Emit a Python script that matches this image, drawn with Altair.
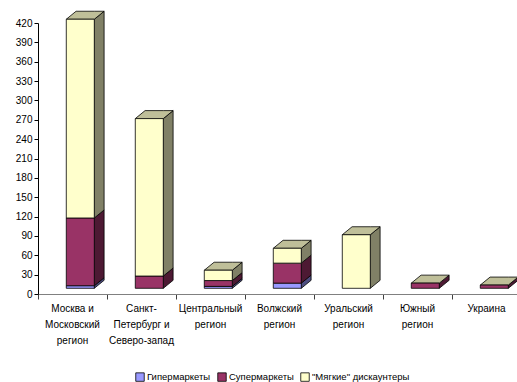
import altair as alt
import pandas as pd

# Store counts by region and format
regions = [
    "Москва и\nМосковский\nрегион",
    "Санкт-\nПетербург и\nСеверо-запад",
    "Центральный\nрегион",
    "Волжский\nрегион",
    "Уральский\nрегион",
    "Южный\nрегион",
    "Украина",
]
series = ["Гипермаркеты", "Супермаркеты", "\"Мягкие\" дискаунтеры"]
hyper = [4, 0, 3, 8, 0, 0, 0]
super_ = [105, 19, 9, 31, 0, 8, 5]
discount = [308, 244, 16, 23, 83, 0, 0]
y_ticks = list(range(0, 421, 30))

front_colors = ["#9999FF", "#993366", "#FFFFCC"]
side_colors = ["#4D4D80", "#4D1933", "#808066"]
top_color = "#BFBF99"

# pseudo-3D geometry in data units
W, H = 479, 271
N_VISIBLE = W / 69.0
BAR_L, BAR_R = 0.41, 0.816
DX = 0.142
DY = 8 * 420 / H
BASE = 5.7 * 420 / H

front_rows, side_rows, top_rows = [], [], []
for i in range(len(regions)):
    lo = BASE
    for s, vals in zip(series, [hyper, super_, discount]):
        v = vals[i]
        if v <= 0:
            continue
        hi = lo + v
        xl, xr = i + BAR_L, i + BAR_R
        front_rows.append(dict(series=s, x=xl, x2=xr, y=lo, y2=hi))
        key = f"{i}-{s}"
        side_rows.append(dict(key=key, series=s, x=xr, y=lo, y2=hi))
        side_rows.append(dict(key=key, series=s, x=xr + DX, y=lo + DY, y2=hi + DY))
        lo = hi
    xl, xr = i + BAR_L, i + BAR_R
    yt = lo
    for x, a, b in [(xl, yt, yt), (xl + DX, yt, yt + DY),
                    (xr, yt, yt + DY), (xr + DX, yt + DY, yt + DY)]:
        top_rows.append(dict(key=str(i), x=x, y=a, y2=b))

front = pd.DataFrame(front_rows)
side = pd.DataFrame(side_rows)
top = pd.DataFrame(top_rows)
labels = pd.DataFrame({"x": [i + 0.5 for i in range(len(regions))], "label": regions})

xscale = alt.Scale(domain=[0, N_VISIBLE], nice=False, zero=False)
yscale = alt.Scale(domain=[0, 420], nice=False)

x_axis = alt.Axis(values=list(range(0, 8)), labels=False, title=None, grid=False,
                  tickSize=5, domainColor="#808080", tickColor="#404040")
y_axis = alt.Axis(values=y_ticks, title=None, grid=False, tickSize=4,
                  labelFontSize=10, labelFont="Liberation Sans", labelColor="black",
                  domainColor="black", tickColor="black", labelPadding=2)

X = alt.X("x:Q", scale=xscale, axis=x_axis)
Y = alt.Y("y:Q", scale=yscale, axis=y_axis)

side_layer = alt.Chart(side).mark_area(stroke="black", strokeWidth=0.8, opacity=1).encode(
    x=X, y=Y, y2="y2:Q",
    detail="key:N",
    fill=alt.Fill("series:N", scale=alt.Scale(domain=series, range=side_colors), legend=None),
)

top_layer = alt.Chart(top).mark_area(stroke="black", strokeWidth=0.8, opacity=1,
                                     fill=top_color).encode(
    x=X, y=Y, y2="y2:Q",
    detail="key:N",
)

front_layer = alt.Chart(front).mark_rect(stroke="black", strokeWidth=0.8).encode(
    x=X, x2="x2:Q", y=Y, y2="y2:Q",
    color=alt.Color(
        "series:N",
        scale=alt.Scale(domain=series, range=front_colors),
        legend=alt.Legend(
            title=None, orient="none", direction="horizontal",
            legendX=97, legendY=349, symbolType="square", symbolSize=72,
            symbolStrokeColor="black", symbolStrokeWidth=0.8, symbolOpacity=1,
            labelFont="Liberation Sans", labelFontSize=9.5, labelColor="black",
            labelOffset=2, columnPadding=5, padding=0,
        ),
    ),
)

label_layer = alt.Chart(labels).mark_text(
    font="Liberation Sans", fontSize=10, lineBreak="\n", lineHeight=16,
    baseline="top", align="center", color="black",
).encode(
    x=X,
    y=alt.value(281),
    text="label:N",
)

chart = alt.layer(side_layer, top_layer, front_layer, label_layer).resolve_scale(
    color="independent", fill="independent"
).properties(
    width=W, height=H,
    autosize=alt.AutoSizeParams(type="none"),
    padding={"left": 38, "top": 23, "right": 0, "bottom": 88},
    background="white",
).configure_view(stroke=None)

chart.save("out.html", embed_options={"renderer": "svg", "actions": False})
